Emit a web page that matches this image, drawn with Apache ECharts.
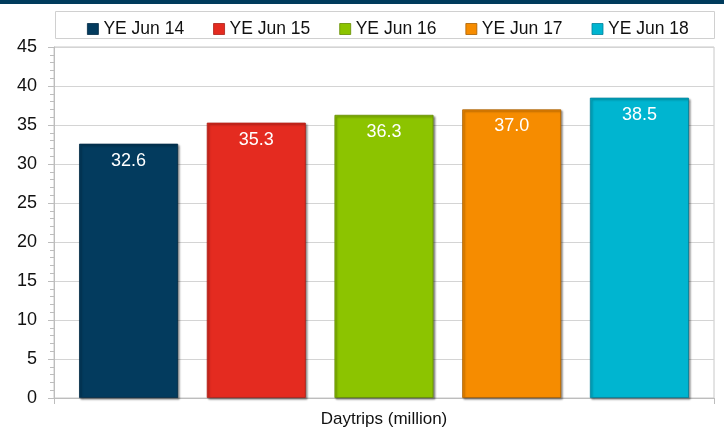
<!DOCTYPE html>
<html>
<head>
<meta charset="utf-8">
<script src="https://cdn.jsdelivr.net/npm/echarts@6/dist/echarts.min.js"></script>
<style>
html,body{margin:0;padding:0;background:#fff;}
#c{width:724px;height:434px;}
</style>
</head>
<body>
<div id="c"></div>
<script>
const categories = ['Daytrips (million)'];
const seriesNames = ['YE Jun 14', 'YE Jun 15', 'YE Jun 16', 'YE Jun 17', 'YE Jun 18'];
const seriesValues = [32.6, 35.3, 36.3, 37.0, 38.5];
const colors = ['#033b5e', '#e42b20', '#8cc400', '#f68c00', '#00b5d0'];
const edgeColors = ['#022a44', '#a91f16', '#648c00', '#a86000', '#00809a'];

const chart = echarts.init(document.getElementById('c'), null, {renderer: 'canvas'});
const font = 'Liberation Sans, Arial, sans-serif';

const series = seriesNames.map((name, i) => ({
  name: name,
  type: 'bar',
  data: [seriesValues[i]],
  barWidth: 99,
  barGap: '29%',
  itemStyle: {
    color: colors[i],
    borderColor: edgeColors[i],
    borderWidth: 0.8,
    shadowColor: 'rgba(0,0,0,0.45)',
    shadowBlur: 2,
    shadowOffsetX: 1.5,
    shadowOffsetY: 1.5
  },
  label: {
    show: true,
    position: 'insideTop',
    distance: 8,
    color: '#ffffff',
    fontFamily: font,
    fontSize: 18,
    formatter: p => p.value.toFixed(1)
  }
}));

chart.setOption({
  animation: false,
  backgroundColor: '#ffffff',
  graphic: [
    {type: 'rect', shape: {x: 0, y: 0, width: 724, height: 4}, style: {fill: '#003b5c'}, z: 10},
    {type: 'rect', shape: {x: 55.5, y: 11.5, width: 659, height: 27}, style: {fill: 'none', stroke: '#d0d0d0', lineWidth: 1}, z: 0}
  ],
  legend: {
    left: 82,
    top: 15,
    itemWidth: 11,
    itemHeight: 11,
    itemGap: 29,
    icon: 'rect',
    itemStyle: {borderWidth: 0.8, shadowBlur: 0, shadowOffsetX: 0, shadowOffsetY: 0},
    textStyle: {fontFamily: font, fontSize: 17.5, color: '#111'},
    data: seriesNames
  },
  grid: {
    left: 54, right: 10, top: 47, bottom: 36,
    show: true, borderColor: '#c8c8c8', borderWidth: 1
  },
  xAxis: {
    type: 'category',
    data: categories,
    axisLine: {lineStyle: {color: '#bdbdbd'}},
    axisTick: {show: true, length: 6, lineStyle: {color: '#bdbdbd'}},
    axisLabel: {fontFamily: font, fontSize: 17, color: '#111', margin: 13}
  },
  yAxis: {
    type: 'value',
    min: 0, max: 45, interval: 5,
    axisLine: {show: true, lineStyle: {color: '#bdbdbd'}},
    axisTick: {show: true, length: 6, lineStyle: {color: '#bdbdbd'}},
    minorTick: {show: true, splitNumber: 5, length: 4, lineStyle: {color: '#bdbdbd'}},
    splitLine: {show: true, lineStyle: {color: '#d4d4d4'}},
    axisLabel: {fontFamily: font, fontSize: 18, color: '#111', margin: 17}
  },
  series: series
});
</script>
</body>
</html>
